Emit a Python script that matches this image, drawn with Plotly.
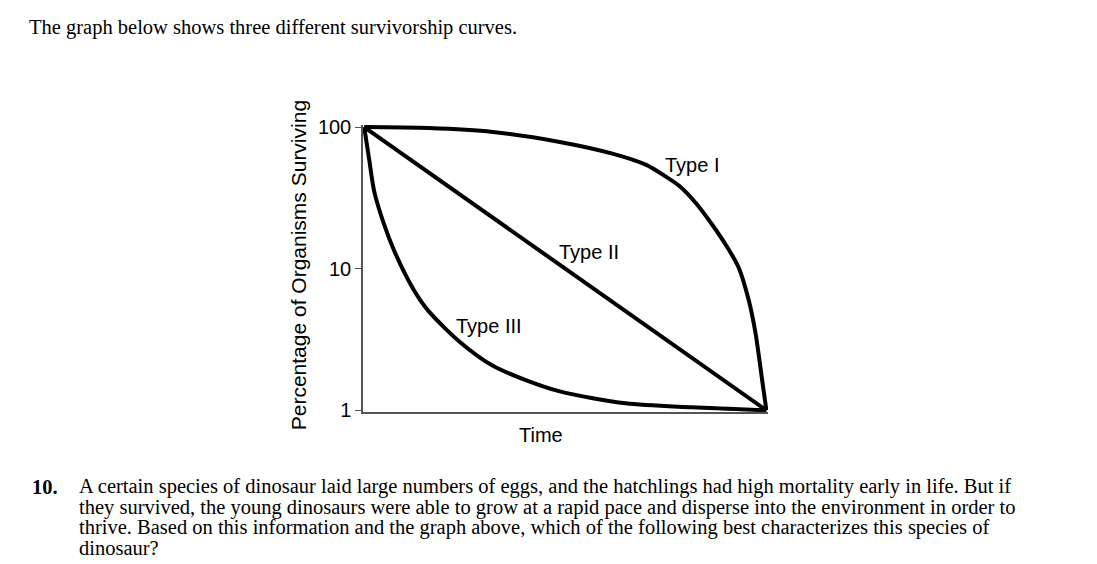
"""Three survivorship curves (Type I, II, III) on a log-scaled survival axis,
laid out as an exam question page."""

import plotly.graph_objects as go

# Time as percent of maximum life span, survival in percent (log axis)
type1_time = [0, 16, 32, 48.6, 61.7, 70, 75, 78.3, 82.5, 86.4, 90, 93.1, 95.6, 97.3, 98.8, 100]
type1_surv = [100, 98.4, 92.3, 78.6, 65, 54.3, 44.7, 38.5, 29, 20.7, 14.6, 10.2, 6.0, 3.5, 1.75, 1]

type2_time = [0, 100]
type2_surv = [100, 1]

type3_time = [0, 1.2, 2.5, 4.9, 7.4, 12.3, 15.8, 24, 32, 40.5, 48.6, 65, 81.5, 100]
type3_surv = [100, 60, 35, 20.7, 13.5, 7.1, 5.1, 3.0, 2.06, 1.62, 1.36, 1.12, 1.05, 1]

y_ticks = [1, 10, 100]
y_tick_text = ["1", "10", "100"]

heading = "The graph below shows three different survivorship curves."
question_lines = [
    "A certain species of dinosaur laid large numbers of eggs, and the hatchlings had high mortality early in life. But if",
    "they survived, the young dinosaurs were able to grow at a rapid pace and disperse into the environment in order to",
    "thrive. Based on this information and the graph above, which of the following best characterizes this species of",
    "dinosaur?",
]

curve_style = dict(color="black", width=4)

fig = go.Figure()
fig.add_trace(go.Scatter(x=type1_time, y=type1_surv, mode="lines",
                         line=dict(curve_style, shape="spline", smoothing=0.8), name="Type I"))
fig.add_trace(go.Scatter(x=type2_time, y=type2_surv, mode="lines",
                         line=curve_style, name="Type II"))
fig.add_trace(go.Scatter(x=type3_time, y=type3_surv, mode="lines",
                         line=dict(curve_style, shape="spline", smoothing=0.8), name="Type III"))

label_font = dict(family="Liberation Sans, Arial", size=20, color="black")
# curve labels (log axis -> y given as log10 value)
fig.add_annotation(x=81.5, y=1.735, text="Type I", showarrow=False, font=label_font)
fig.add_annotation(x=56.0, y=1.115, text="Type II", showarrow=False, font=label_font)
fig.add_annotation(x=31.1, y=0.592, text="Type III", showarrow=False, font=label_font)

# axis titles
fig.add_annotation(xref="paper", yref="paper", x=0.44, y=-0.08, text="Time",
                   xanchor="center", yanchor="middle", showarrow=False, font=label_font)
fig.add_annotation(xref="paper", yref="paper", x=-0.16, y=0.512,
                   xanchor="center", yanchor="middle",
                   text="Percentage of Organisms Surviving", textangle=-90,
                   showarrow=False, font=dict(label_font, size=21))

serif = dict(family="Liberation Serif, Times New Roman", size=20.5, color="black")
fig.add_annotation(xref="paper", yref="paper", x=-0.830, y=1.338, xanchor="left",
                   yanchor="middle", text=heading, showarrow=False, font=serif)
fig.add_annotation(xref="paper", yref="paper", x=-0.822, y=-0.261, xanchor="left",
                   yanchor="middle", text="<b>10.</b>", showarrow=False, font=serif)
for i, line in enumerate(question_lines):
    fig.add_annotation(xref="paper", yref="paper", x=-0.706, y=-0.261 - i * 0.0707,
                       xanchor="left", yanchor="middle", text=line, showarrow=False,
                       font=serif)

fig.update_xaxes(range=[-0.3, 100.4], showline=True, linecolor="#555", linewidth=1.5,
                 showgrid=False, zeroline=False, showticklabels=False, ticks="")
fig.update_yaxes(type="log", range=[-0.012, 2.015], showline=True, linecolor="#555",
                 linewidth=1.5, showgrid=False, zeroline=False, tickvals=y_ticks,
                 ticktext=y_tick_text, ticks="outside", ticklen=6, tickcolor="#555",
                 tickfont=dict(family="Liberation Sans, Arial", size=20, color="black"))

fig.update_layout(
    width=1081, height=556,
    margin=dict(l=355, r=321, t=117, b=152),
    plot_bgcolor="white", paper_bgcolor="white",
    showlegend=False,
)
# page is a little taller than the window with the default body margin; hide scrollbars
fig.write_html("out.html", post_script="document.body.style.overflow = 'hidden';")
